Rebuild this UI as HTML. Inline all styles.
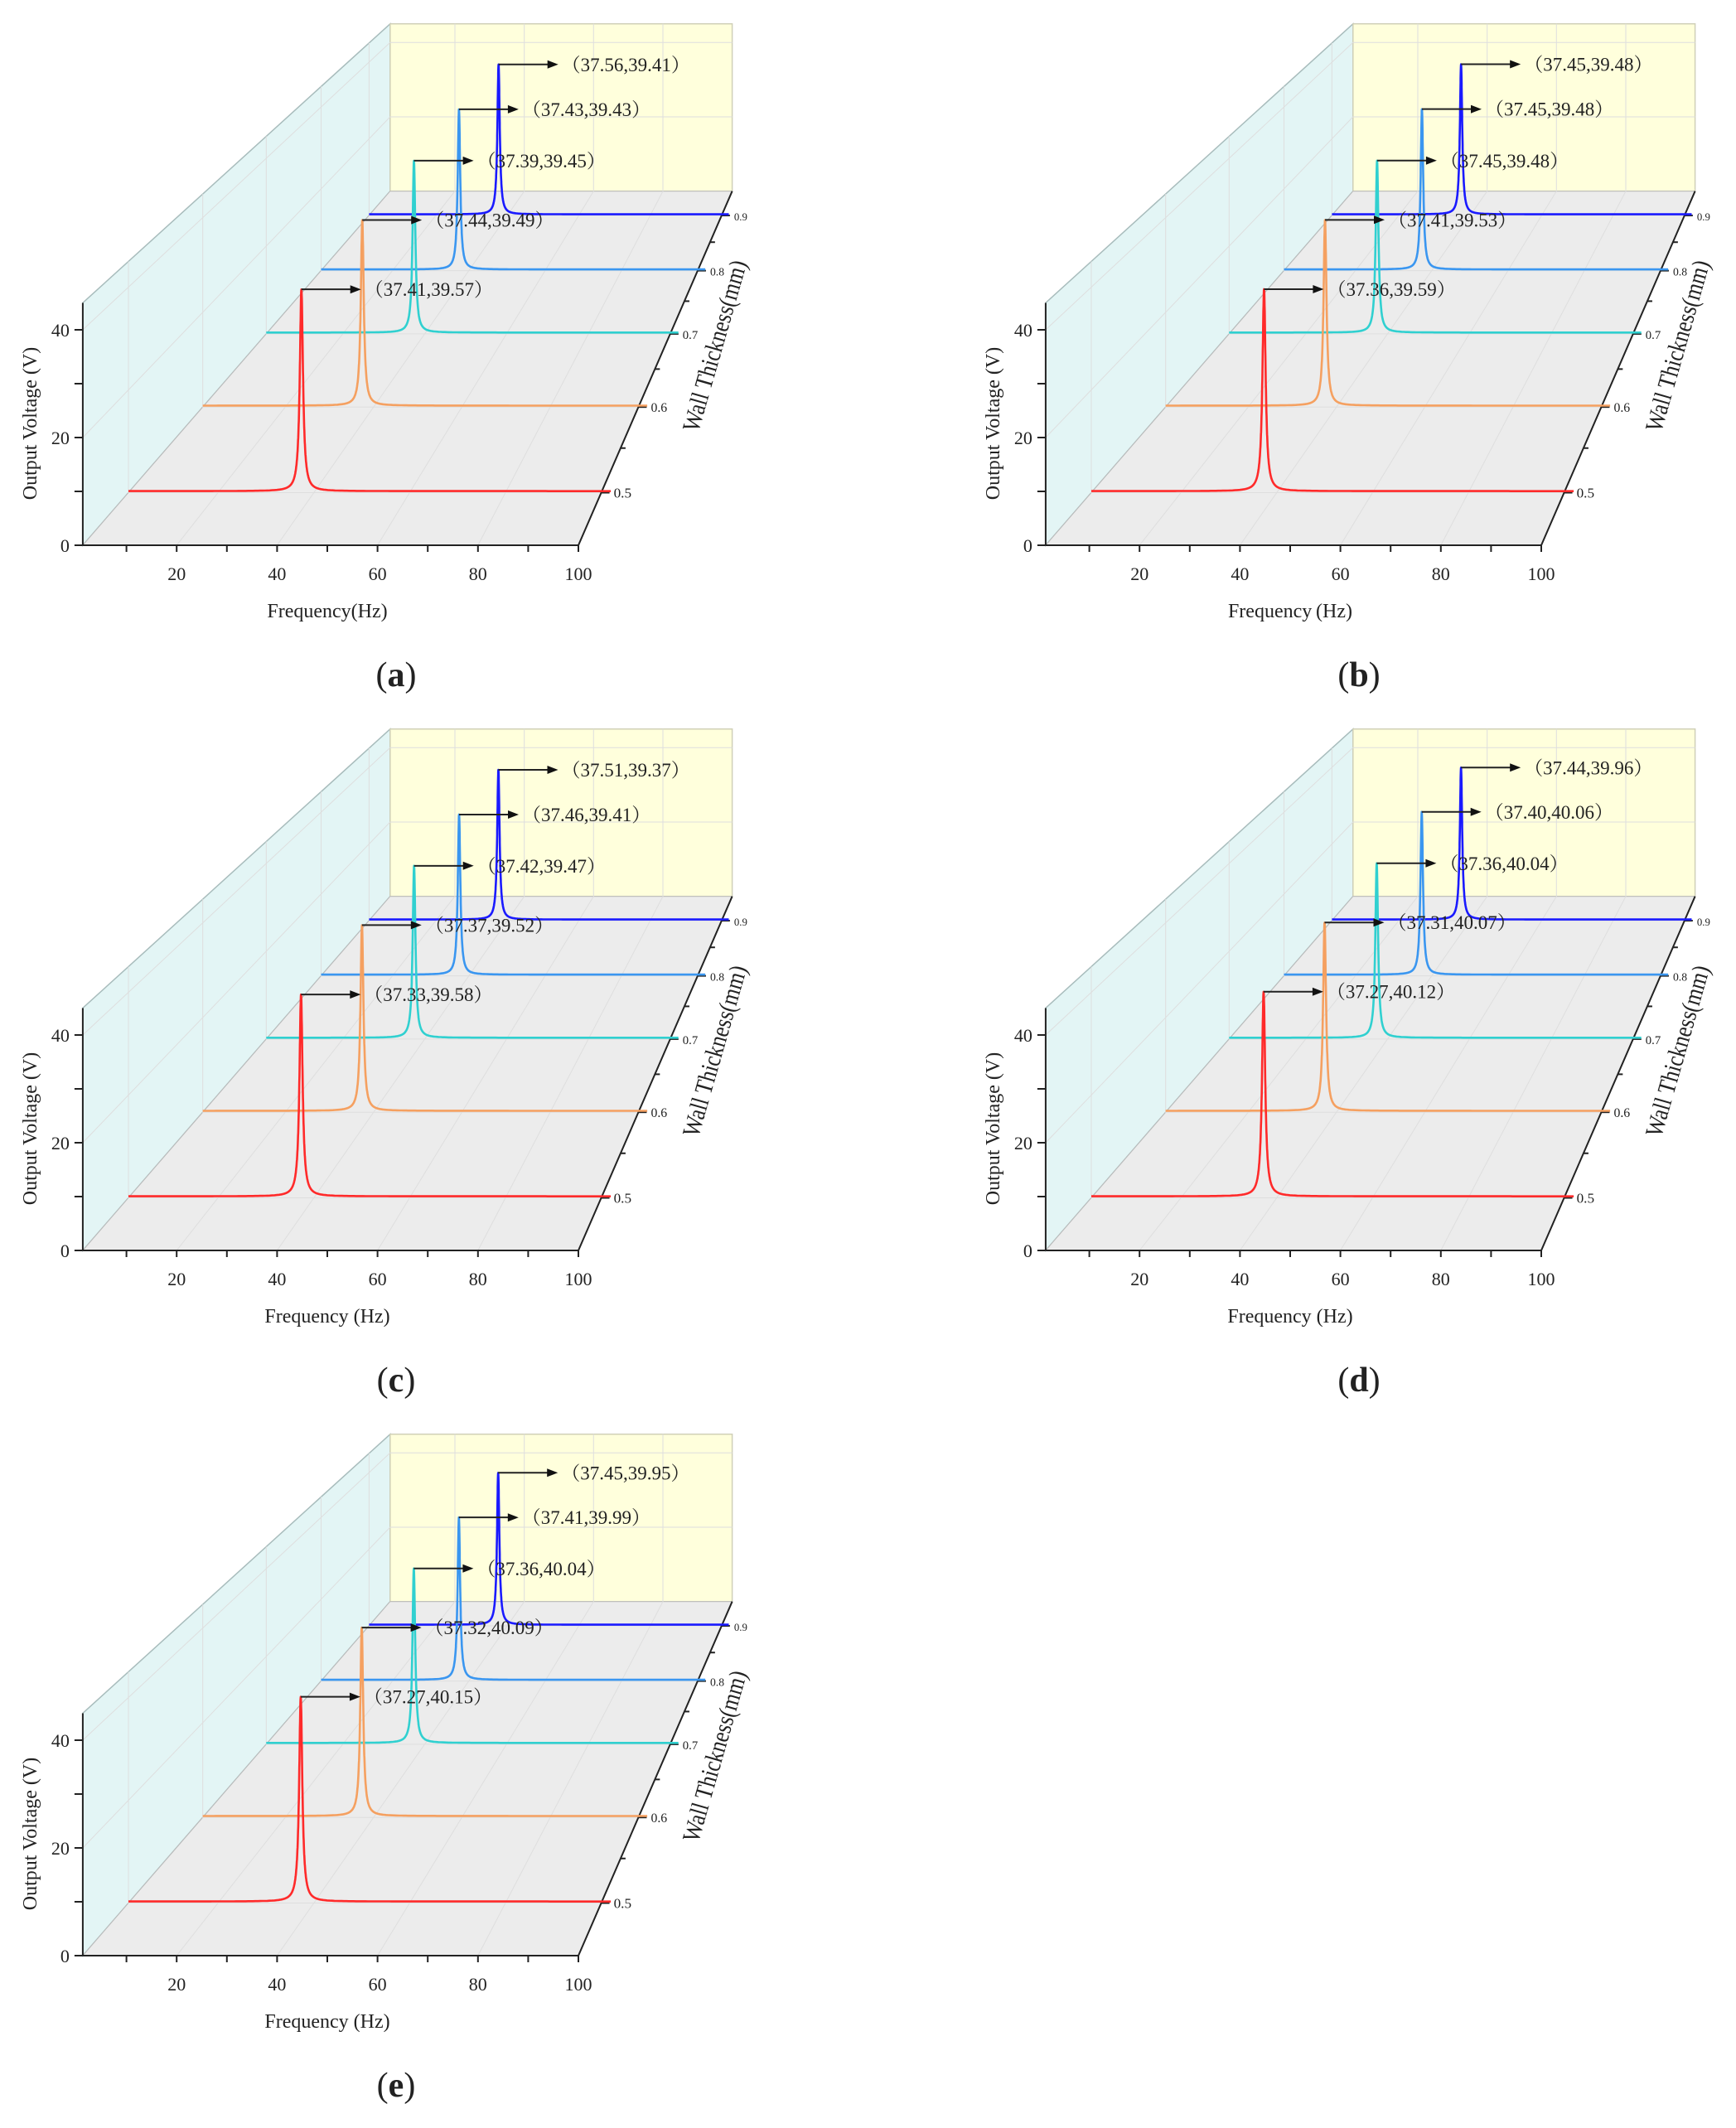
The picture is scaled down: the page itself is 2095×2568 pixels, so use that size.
<!DOCTYPE html>
<html><head><meta charset="utf-8">
<style>
html,body{margin:0;padding:0;background:#fff;}
svg{display:block;}
text{font-family:"Liberation Serif","Noto Serif CJK SC",serif;fill:#222;}
</style></head>
<body>
<svg id="chart" width="2095" height="2568" viewBox="0 0 2095 2568" xmlns="http://www.w3.org/2000/svg"></svg>
<script>
// ---- data ----
const thickness = [0.5, 0.6, 0.7, 0.8, 0.9];
const panelLetters = ["a", "b", "c", "d", "e"];
const freqA = [37.41, 37.44, 37.39, 37.43, 37.56];
const voltA = [39.57, 39.49, 39.45, 39.43, 39.41];
const freqB = [37.36, 37.41, 37.45, 37.45, 37.45];
const voltB = [39.59, 39.53, 39.48, 39.48, 39.48];
const freqC = [37.33, 37.37, 37.42, 37.46, 37.51];
const voltC = [39.58, 39.52, 39.47, 39.41, 39.37];
const freqD = [37.27, 37.31, 37.36, 37.40, 37.44];
const voltD = [40.12, 40.07, 40.04, 40.06, 39.96];
const freqE = [37.27, 37.32, 37.36, 37.41, 37.45];
const voltE = [40.15, 40.09, 40.04, 39.99, 39.95];
const freqTicks = [10, 20, 30, 40, 50, 60, 70, 80, 90, 100];
const freqTickLabels = ["", "20", "", "40", "", "60", "", "80", "", "100"];
const voltTicks = [0, 10, 20, 30, 40];
const voltTickLabels = ["0", "", "20", "", "40"];
const thickTicks = [0.5, 0.55, 0.6, 0.65, 0.7, 0.75, 0.8, 0.85, 0.9];
const thickTickLabels = ["0.5", "", "0.6", "", "0.7", "", "0.8", "", "0.9"];
const seriesColors = ["#ff2a2a", "#f5a060", "#30d0d0", "#3a96f0", "#1a1aff"];
const xLabels = ["Frequency(Hz)", "Frequency\u2009(Hz)", "Frequency (Hz)", "Frequency (Hz)", "Frequency (Hz)"];

const panelFreqs = [freqA, freqB, freqC, freqD, freqE];
const panelVolts = [voltA, voltB, voltC, voltD, voltE];
const offsets = [[0, 0], [1162, 0], [0, 851], [1162, 851], [0, 1702]];

// ---- axis functions (projection) ----
const F_MIN = 1.3, F_MAX = 100, V_MAX = 45;
const VPX = 1297, VPY = -721, PERSP = 0.449;
function xFront(f) { return 92 + 6.06 * f; }
function yFront(v) { return 658 - 6.5 * v; }
function zOf(w) { return (w - 0.446) / 0.5025; }
function proj(f, v, z) {
  const s = 1 / (1 + PERSP * z);
  return [VPX + (xFront(f) - VPX) * s, VPY + (yFront(v) - VPY) * s, s];
}

const NS = "http://www.w3.org/2000/svg";
const svg = document.getElementById("chart");
function mk(tag, attrs, parent) {
  const el = document.createElementNS(NS, tag);
  for (const k in attrs) el.setAttribute(k, attrs[k]);
  parent.appendChild(el);
  return el;
}
function pts(arr) { return arr.map(p => p[0].toFixed(1) + "," + p[1].toFixed(1)).join(" "); }

panelLetters.forEach((letter, pi) => {
  const g = mk("g", { transform: "translate(" + offsets[pi][0] + "," + offsets[pi][1] + ")" }, svg);
  
  

  const leftWall = mk("polygon", { points: pts([proj(F_MIN,0,0), proj(F_MIN,V_MAX,0), proj(F_MIN,V_MAX,1), proj(F_MIN,0,1)]), fill: "#e3f5f5", stroke: "#a8bcbc", "stroke-width": 1.5 }, g);
  
  
  const backWall = mk("polygon", { points: pts([proj(F_MIN,0,1), proj(F_MIN,V_MAX,1), proj(F_MAX,V_MAX,1), proj(F_MAX,0,1)]), fill: "#ffffdc", stroke: "#d0d0b8", "stroke-width": 1.5 }, g);
  
  
  const floor = mk("polygon", { points: pts([proj(F_MIN,0,0), proj(F_MAX,0,0), proj(F_MAX,0,1), proj(F_MIN,0,1)]), fill: "#ececec", stroke: "#bbb", "stroke-width": 1 }, g);
  
  

  const grid = mk("g", { stroke: "#dedede", "stroke-width": 1, fill: "none" }, g);
  
  
  freqTicks.forEach((f, i) => {
    if (f >= F_MAX || !freqTickLabels[i]) return;
    mk("polyline", { points: pts([proj(f,0,0), proj(f,0,1), proj(f,V_MAX,1)]) }, grid);
  });
  thickTicks.forEach((w, i) => {
    if (i % 2) return;
    const z = zOf(w);
    mk("polyline", { points: pts([proj(F_MAX,0,z), proj(F_MIN,0,z), proj(F_MIN,V_MAX,z)]) }, grid);
  });
  voltTicks.forEach((v, i) => {
    if (v === 0 || !voltTickLabels[i]) return;
    mk("polyline", { points: pts([proj(F_MIN,v,0), proj(F_MIN,v,1), proj(F_MAX,v,1)]) }, grid);
  });

  const ax = mk("g", { stroke: "#222", "stroke-width": 2, fill: "none" }, g);
  
  
  mk("polyline", { points: pts([proj(F_MIN,0,0), proj(F_MAX,0,0), proj(F_MAX,0,1)]) }, ax);
  mk("polyline", { points: pts([proj(F_MIN,0,0), proj(F_MIN,V_MAX,0)]) }, ax);

  freqTicks.forEach((f, i) => {
    const p = proj(f, 0, 0);
    mk("line", { x1: p[0], y1: p[1], x2: p[0], y2: p[1] + 8 }, ax);
    if (freqTickLabels[i]) {
      const t = mk("text", { x: p[0], y: p[1] + 42, "font-size": 22, "text-anchor": "middle" }, g);
      
      
      t.textContent = freqTickLabels[i];
    }
  });
  voltTicks.forEach((v, i) => {
    const p = proj(F_MIN, v, 0);
    mk("line", { x1: p[0], y1: p[1], x2: p[0] - 10, y2: p[1] }, ax);
    if (voltTickLabels[i]) {
      const t = mk("text", { x: p[0] - 16, y: p[1] + 8, "font-size": 22, "text-anchor": "end" }, g);
      
      
      t.textContent = voltTickLabels[i];
    }
  });
  thickTicks.forEach((w, i) => {
    const p = proj(F_MAX, 0, zOf(w));
    const len = thickTickLabels[i] ? 10 : 6;
    mk("line", { x1: p[0], y1: p[1], x2: p[0] + len, y2: p[1] }, ax);
    if (thickTickLabels[i]) {
      const t = mk("text", { x: p[0] + 15, y: p[1] + 6, "font-size": (18 * p[2]).toFixed(1) }, g);
      
      
      t.textContent = thickTickLabels[i];
    }
  });

  const yt = mk("text", { x: 0, y: 0, "font-size": 24, "text-anchor": "middle", transform: "translate(44,511) rotate(-90)" }, g);
  
  
  yt.textContent = "Output Voltage (V)";
  const xt = mk("text", { x: 395, y: 745, "font-size": 24, "text-anchor": "middle" }, g);
  
  
  xt.textContent = xLabels[pi];
  const zt = mk("text", { x: 0, y: 0, "font-size": 30, "text-anchor": "middle", transform: "translate(872,420) rotate(-74) scale(0.85,1)" }, g);
  
  
  zt.textContent = "Wall Thickness(mm)";

  const fr = panelFreqs[pi], vo = panelVolts[pi];
  for (let k = thickness.length - 1; k >= 0; k--) {
    const z = zOf(thickness[k]);
    const f0 = fr[k], vp = vo[k], gam = 0.4, base = 0.3;
    const line = [];
    for (let f = F_MIN; f <= F_MAX + 1e-9; f += (Math.abs(f - f0) < 5 ? 0.02 : 0.5)) {
      const v = base + (vp - base) / (1 + Math.pow((f - f0) / gam, 2));
      line.push(proj(f, v, z));
    }
    line.push(proj(F_MAX + 2, base, z));
    const pl = mk("polyline", { points: pts(line), fill: "none", stroke: seriesColors[k], "stroke-width": 2.6, "stroke-linejoin": "round" }, g);
    
    

    const top = proj(f0, vp, z);
    const ann = mk("g", {}, g);
    
    
    const ex = top[0] + 72;
    mk("line", { x1: top[0], y1: top[1], x2: ex - 10, y2: top[1], stroke: "#222", "stroke-width": 2 }, ann);
    mk("polygon", { points: pts([[ex, top[1]], [ex - 13, top[1] - 5], [ex - 13, top[1] + 5]]), fill: "#111" }, ann);
    const t = mk("text", { x: ex + 4, y: top[1] + 8, "font-size": 23 }, ann);
    t.textContent = "\uFF08" + f0.toFixed(2) + "," + vp.toFixed(2) + "\uFF09";
  }

  const pl = mk("text", { x: 478, y: 828, "font-size": 42, "font-weight": "bold", "text-anchor": "middle" }, g);
  
  
  pl.innerHTML = '<tspan font-weight="normal">(</tspan>' + letter + '<tspan font-weight="normal">)</tspan>';
});
</script>
</body></html>
